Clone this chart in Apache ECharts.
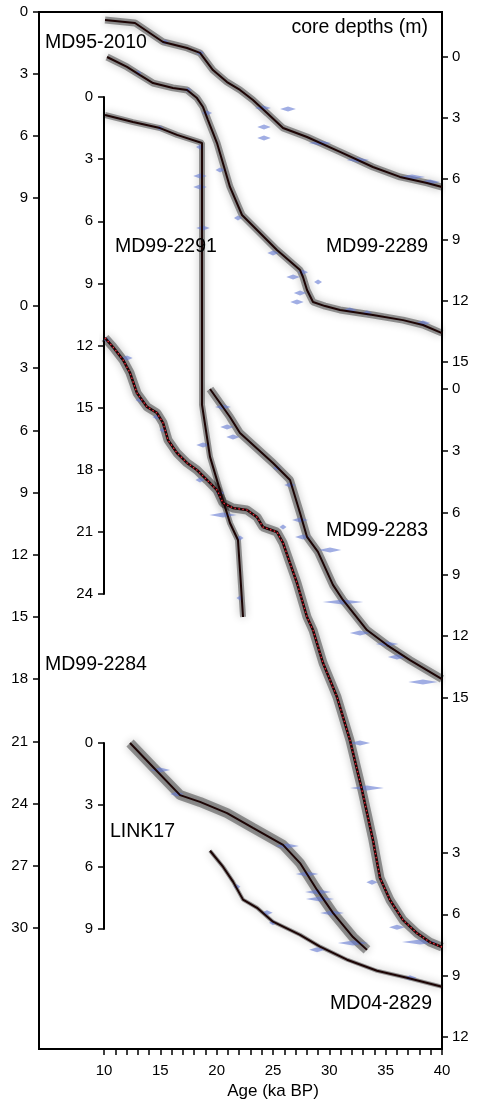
<!DOCTYPE html>
<html>
<head>
<meta charset="utf-8">
<title>Age-depth models</title>
<script src="https://cdn.jsdelivr.net/npm/echarts@6/dist/echarts.min.js"></script>
<style>
  html, body { margin: 0; padding: 0; background: #fff; }
  #chart { width: 480px; height: 1101px; }
</style>
</head>
<body>
<div id="chart"></div>
<script>
// age-depth curves, [age ka BP, depth m]
const md95_2010 = [[10.09,0.39],[12.75,0.53],[15.24,1.45],[17.37,1.74],[18.52,1.98],[19.67,2.81],[20.92,3.39],[22.07,3.77],[23.22,4.26],[24.47,4.89],[25.89,5.61],[28.02,6.05],[30.95,6.77],[33.87,7.5],[36.27,7.98],[38.67,8.27],[40,8.47]];
const md99_2289 = [[10.27,0],[12.04,0.49],[13.2,0.89],[14.35,1.28],[16.12,1.52],[17.37,1.62],[18.25,2.02],[18.79,2.46],[19.23,3.1],[20.03,4.23],[21.18,6.39],[22.25,7.77],[23.58,8.51],[25.35,9.49],[27.4,10.48],[27.66,10.82],[28.02,11.46],[28.55,12.05],[29.62,12.25],[30.95,12.44],[33.87,12.69],[36.54,12.94],[38.31,13.18],[40,13.58]];
const md99_2291 = [[10.09,0.87],[12.57,1.21],[14.97,1.5],[16.48,1.83],[18.7,2.22],[18.7,14.87],[19.41,17.38],[20.47,19.31],[21.18,20.57],[21.89,21.39],[22.07,22.84],[22.34,25.11]];
const md99_2284 = [[10.09,1.54],[10.8,1.98],[11.69,2.6],[12.31,3.23],[12.93,4.2],[13.82,4.87],[14.7,5.16],[15.24,5.64],[15.68,6.46],[16.48,7.09],[17.37,7.57],[18.25,7.91],[19.14,8.39],[20.03,8.88],[20.56,9.5],[21.45,9.74],[22.69,9.84],[23.58,10.18],[24.11,10.66],[25.35,10.9],[25.89,11.43],[26.51,12.4],[27.13,13.36],[28.02,15],[28.55,15.63],[29.44,17.22],[30.68,18.86],[31.83,20.94],[32.9,23.35],[33.87,25.76],[34.5,27.59],[35.38,28.65],[36.54,29.62],[37.78,30.25],[38.93,30.68],[40,30.92]];
const md99_2283 = [[19.41,0],[21.18,1.36],[22.07,2.14],[25,3.59],[26.51,4.42],[27.4,6.02],[28.02,7.18],[28.99,7.91],[30.32,9.51],[31.21,10.24],[33.34,11.7],[35.12,12.43],[37.16,13.16],[40,14.08]];
const link17 = [[12.31,0],[14.35,1.16],[16.75,2.52],[18.52,2.85],[20.92,3.39],[23.22,4.11],[25.89,4.93],[27.4,5.81],[28.91,7.11],[30.32,8.22],[32.1,9.39],[33.34,10.01]];
const md04_2829 = [[19.41,2.89],[20.56,3.67],[21.45,4.4],[22.34,5.28],[23.58,5.68],[25,6.36],[27.4,7],[29.17,7.58],[31.57,8.22],[34.23,8.76],[36.89,9.1],[40,9.54]];

// calibrated dates, [age ka BP, depth m, half range ka]
const md95_2010Dates = [[15.41,1.45,0.35],[18.52,1.98,0.35],[24.11,4.64,0.7],[26.33,4.69,0.7],[24.2,5.56,0.6],[24.2,6.1,0.6],[29.17,6.34,1.0],[32.54,7.16,1.0],[37.34,7.98,1.15],[38.93,8.22,0.9]];
const md99_2289Dates = [[13.02,0.79,0.3],[17.46,1.62,0.3],[19.14,2.75,0.45],[20.3,5.56,0.4],[21.89,7.92,0.35],[25,9.64,0.5],[26.78,10.82,0.6],[27.66,10.58,0.45],[29,11.07,0.35],[27.4,11.61,0.55],[27.13,12.05,0.6],[31.83,12.44,0.6],[33.34,12.59,0.45],[38.31,13.08,0.65]];
const md99_2291Dates = [[14.97,1.5,0.3],[18.52,2.41,0.35],[18.52,3.81,0.6],[18.52,4.35,0.6],[18.79,6.33,0.6],[18.79,16.8,0.6],[22.07,21.29,0.25],[22.07,24.19,0.25]];
const md99_2284Dates = [[10.27,1.64,0.3],[12.04,2.51,0.5],[13.2,4.53,0.4],[14.7,5.35,0.4],[15.24,5.98,0.3],[18.52,8.39,0.4],[20.3,9.02,0.4],[20.56,10.08,1.2],[25.89,10.66,0.3],[32.72,21.08,0.9],[33.34,23.25,1.5],[33.79,27.79,0.5],[36,29.96,0.7],[38.05,30.68,1.6]];
const md99_2283Dates = [[20.56,0.87,0.7],[20.92,1.84,0.6],[21.45,2.33,0.6],[25.35,3.83,0.35],[26.51,4.66,0.5],[27.4,6.36,0.7],[27.66,7.18,0.7],[30.06,7.82,1.0],[31.21,10.34,1.8],[32.72,11.84,0.9],[35.12,12.38,1.0],[36,13.01,0.8],[38.31,14.22,1.3]];
const link17Dates = [[14.97,1.31,0.9],[16.48,2.47,0.6],[26.24,4.98,1.05],[28.02,6.34,1.0],[29,7.21,1.15],[29.17,7.55,1.25],[30.24,8.22,1.05],[32.1,9.68,1.35]];
const md04_2829Dates = [[21.8,4.65,0.3],[24.47,5.92,0.5],[25,6.41,0.35],[28.91,7.73,0.7],[37.16,9.1,0.6]];

const ageRange = [10, 40];
const ageStep = 5;
const depthStep = 3;

const FONT = 'Liberation Sans, Arial, Helvetica, sans-serif';
const plotLeft = 104, plotRight = 38, frameLeft = 39, frameTop = 12, frameBottom = 52;
const pxPerKa = (480 - plotLeft - plotRight) / (ageRange[1] - ageRange[0]);

// one grid per core so each depth scale can sit where the figure puts it
const cores = [
  { name: 'MD95-2010', data: md95_2010, dates: md95_2010Dates, top: 12,  height: 186, min: 0, max: 9,  side: 'left',  offset: 65, line: false, band: 7 },
  { name: 'MD99-2289', data: md99_2289, dates: md99_2289Dates, top: 57,  height: 305, min: 0, max: 15, side: 'right', offset: 0,  line: false, band: 7 },
  { name: 'MD99-2291', data: md99_2291, dates: md99_2291Dates, top: 97,  height: 497, min: 0, max: 24, side: 'left',  offset: 0,  line: true,  band: 6 },
  { name: 'MD99-2284', data: md99_2284, dates: md99_2284Dates, top: 306, height: 622, min: 0, max: 30, side: 'left',  offset: 65, line: false, band: 9, dotted: true },
  { name: 'MD99-2283', data: md99_2283, dates: md99_2283Dates, top: 389, height: 309, min: 0, max: 15, side: 'right', offset: 0,  line: false, band: 8 },
  { name: 'LINK17',    data: link17,    dates: link17Dates,    top: 743, height: 186, min: 0, max: 9,  side: 'left',  offset: 0,  line: true,  band: 10 },
  { name: 'MD04-2829', data: md04_2829, dates: md04_2829Dates, top: 853, height: 184, min: 3, max: 12, side: 'right', offset: 0,  line: false, band: 4 }
];

const grids = [
  { left: frameLeft, right: plotRight, top: frameTop, bottom: frameBottom, show: true, borderColor: '#000', borderWidth: 2, backgroundColor: 'transparent', outerBoundsMode: 'none' },
  { left: plotLeft, right: plotRight, top: frameTop, bottom: frameBottom, outerBoundsMode: 'none' }
];
const xAxes = [
  { gridIndex: 0, type: 'value', show: false, min: 0, max: 1 },
  {
    gridIndex: 1, type: 'value', min: ageRange[0], max: ageRange[1], interval: ageStep,
    name: 'Age (ka BP)', nameLocation: 'middle', nameGap: 33,
    nameTextStyle: { color: '#000', fontSize: 17, fontFamily: FONT },
    axisLine: { show: false },
    axisTick: { show: true, length: 6, lineStyle: { color: '#000', width: 1.5 } },
    minorTick: { show: true, splitNumber: 5, length: 6, lineStyle: { color: '#000', width: 1.5 } },
    axisLabel: { color: '#000', fontSize: 15, fontFamily: FONT, margin: 14 },
    splitLine: { show: false }, minorSplitLine: { show: false }
  }
];
const yAxes = [
  { gridIndex: 0, type: 'value', show: false, min: 0, max: 1 },
  { gridIndex: 1, type: 'value', show: false, min: 0, max: 1 }
];
const series = [];

cores.forEach((c, i) => {
  const g = i + 2;
  grids.push({ left: plotLeft, right: plotRight, top: c.top, height: c.height, outerBoundsMode: 'none' });
  xAxes.push({ gridIndex: g, type: 'value', show: false, min: ageRange[0], max: ageRange[1] });
  yAxes.push({
    gridIndex: g, type: 'value', inverse: true, min: c.min, max: c.max, interval: depthStep,
    position: c.side, offset: c.offset,
    axisLine: { show: c.line, lineStyle: { color: '#000', width: 2 } },
    axisTick: { show: true, length: 6, lineStyle: { color: '#000', width: 1.5 } },
    axisLabel: { color: '#000', fontSize: 15, fontFamily: FONT, margin: c.side === 'right' ? 10 : 11 },
    splitLine: { show: false }
  });
  // fuzzy uncertainty envelope
  series.push({
    type: 'line', xAxisIndex: g, yAxisIndex: g, data: c.data, symbol: 'none', clip: false, silent: true, z: 1,
    lineStyle: { width: c.band, color: 'rgba(0,0,0,0.38)', shadowBlur: 8, shadowColor: 'rgba(0,0,0,0.6)', cap: 'butt' }
  });
  // calibrated date probability shapes
  series.push({
    type: 'scatter', xAxisIndex: g, yAxisIndex: g, data: c.dates, symbol: 'diamond', clip: false, silent: true, z: 2,
    symbolSize: v => [Math.max(7, v[2] * 2 * pxPerKa), 5],
    itemStyle: { color: 'rgba(98,120,210,0.75)' }
  });
  // median model
  series.push({
    type: 'line', xAxisIndex: g, yAxisIndex: g, data: c.data, symbol: 'none', clip: false, silent: true, z: 3,
    lineStyle: { width: c.dotted ? 2.6 : 2, color: '#1c0404' }
  });
  if (c.dotted) {
    series.push({
      type: 'line', xAxisIndex: g, yAxisIndex: g, data: c.data, symbol: 'none', clip: false, silent: true, z: 4,
      lineStyle: { width: 1.4, color: '#e8283a', type: [1.5, 2.5] }
    });
  }
});

function label(text, x, y, align) {
  return {
    type: 'text', x: x, y: y, z: 10, silent: true,
    style: { text: text, fill: '#000', font: '19.5px ' + FONT, textAlign: align || 'left', textVerticalAlign: 'middle' }
  };
}

const chart = echarts.init(document.getElementById('chart'), null, { renderer: 'canvas' });
chart.setOption({
  animation: false,
  backgroundColor: '#fff',
  grid: grids,
  xAxis: xAxes,
  yAxis: yAxes,
  series: series,
  graphic: [
    label('core depths (m)', 428, 28, 'right'),
    label('MD95-2010', 45, 43),
    label('MD99-2291', 115, 247),
    label('MD99-2289', 428, 247, 'right'),
    label('MD99-2283', 428, 531, 'right'),
    label('MD99-2284', 45, 665),
    label('LINK17', 110, 832),
    label('MD04-2829', 432, 1004, 'right')
  ]
});
</script>
</body>
</html>
